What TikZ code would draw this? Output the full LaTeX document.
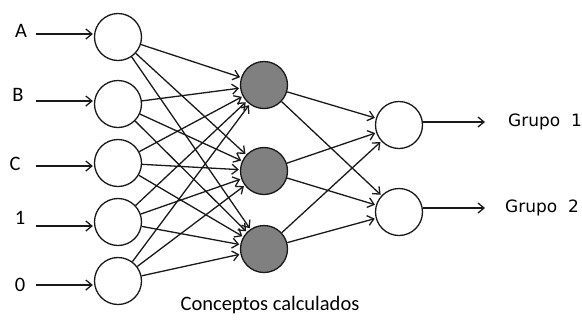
\documentclass[tikz,border=0pt]{standalone}
\usepackage{fontspec}
\setmainfont{Carlito}
\newfontfamily\grupofont{DejaVu Sans}
\usetikzlibrary{arrows.meta}
\begin{document}
\begin{tikzpicture}[x=1pt,y=-1pt,
  neuron/.style={circle,draw=black!90,line width=1.3pt,minimum size=47pt,inner sep=0pt,fill=white},
  hidden/.style={neuron,fill=black!50},
  conn/.style={line width=1.3pt,draw=black!90,-{Straight Barb[length=6pt,width=10pt]},shorten >=1pt},
  lbl/.style={font=\fontsize{20.5}{24}\selectfont,inner sep=0pt},
  glbl/.style={font=\grupofont\fontsize{17}{20}\selectfont,inner sep=0pt,anchor=west}]
\useasboundingbox (0,0) rectangle (582,325);
% input nodes
\node[neuron] (i1) at (118,37) {};
\node[neuron] (i2) at (118,104) {};
\node[neuron] (i3) at (118,163) {};
\node[neuron] (i4) at (118,222) {};
\node[neuron] (i5) at (118,281) {};
% hidden
\node[hidden] (h1) at (264,85) {};
\node[hidden] (h2) at (264,171) {};
\node[hidden] (h3) at (264,249) {};
% outputs
\node[neuron] (o1) at (399,125) {};
\node[neuron] (o2) at (399,212) {};
% input labels
\node[lbl] (la) at (21,31) {A};
\node[lbl] (lb) at (18,95) {B};
\node[lbl] (lc) at (15,164) {C};
\node[lbl] (l1) at (20,218) {1};
\node[lbl] (l0) at (20,285) {0};
\coordinate (s1) at (36,34);
\coordinate (s2) at (36,101);
\coordinate (s3) at (36,166);
\coordinate (s4) at (36,226);
\coordinate (s5) at (36,285);
\foreach \i/\dy in {1/-3,2/-3,3/3,4/4,5/4} {\draw[conn] (s\i) -- ([yshift=-\dy pt]i\i.west);}
\foreach \i in {1,...,5} {\foreach \h in {1,2,3} {\draw[conn] (i\i) -- (h\h);}}
\foreach \h in {1,2,3} {\foreach \o in {1,2} {\draw[conn] (h\h) -- (o\o);}}
\coordinate (e1) at (486,122);
\coordinate (e2) at (486,208);
\draw[conn] (o1.east |- e1) -- (e1);
\draw[conn] (o2.east |- e2) -- (e2);
\node[glbl] (g1) at (508,122) {Grupo\ \ 1};
\node[glbl] (g2) at (505,208) {Grupo\ \ 2};
\node[lbl] (cc) at (270,305) {Conceptos calculados};
\end{tikzpicture}
\end{document}
